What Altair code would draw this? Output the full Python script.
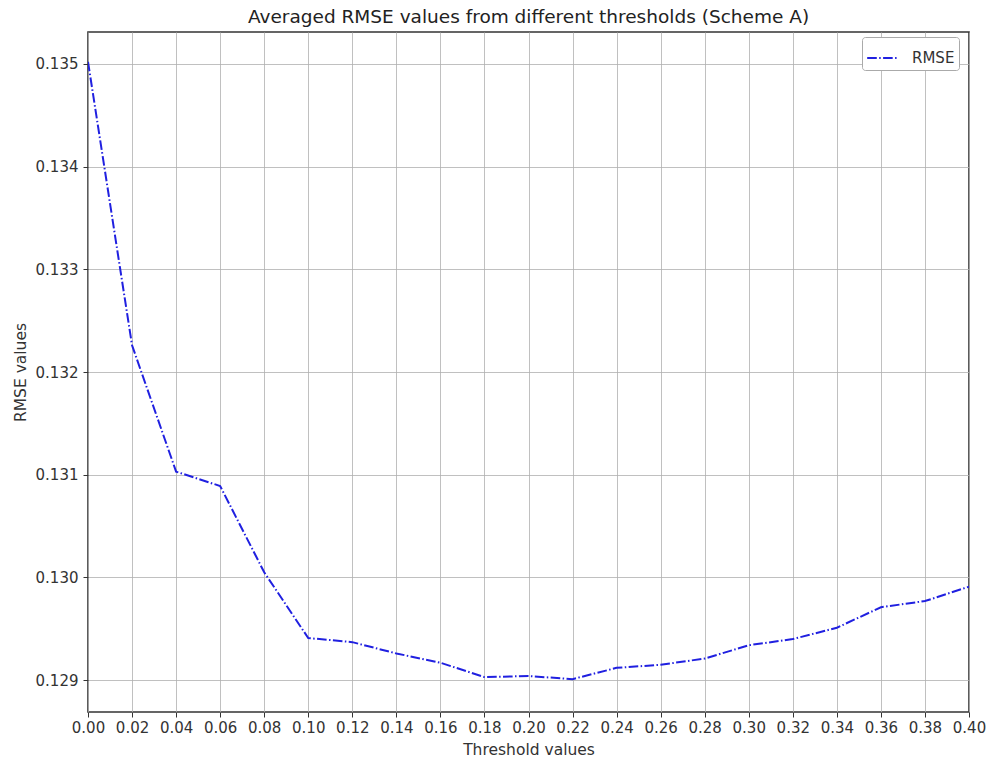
import altair as alt
import pandas as pd

# Threshold values on the x axis and the averaged RMSE at each one
thresholds = [0.00, 0.02, 0.04, 0.06, 0.08, 0.10, 0.12, 0.14, 0.16, 0.18, 0.20,
              0.22, 0.24, 0.26, 0.28, 0.30, 0.32, 0.34, 0.36, 0.38, 0.40]
rmse = [0.13502, 0.13226, 0.13103, 0.13089, 0.13005, 0.12941, 0.12937,
        0.12926, 0.12917, 0.12903, 0.12904, 0.12901, 0.12912, 0.12915,
        0.12921, 0.12934, 0.12940, 0.12951, 0.12971, 0.12977, 0.12991]
y_ticks = [0.129, 0.130, 0.131, 0.132, 0.133, 0.134, 0.135]
series_name = "RMSE"

df = pd.DataFrame({"threshold": thresholds, "rmse": rmse, "series": series_name})

FONT = "DejaVu Sans"
TEXT = "#333333"
DASHDOT = [9.6, 2.4, 1.5, 2.4]
BLUE = "#2020e0"

chart = (
    alt.Chart(df)
    .mark_line(strokeWidth=2, strokeDash=DASHDOT, clip=True)
    .encode(
        x=alt.X(
            "threshold:Q",
            scale=alt.Scale(domain=[0, 0.4], nice=False, zero=False),
            axis=alt.Axis(values=thresholds, format=".2f", title="Threshold values",
                          labelPadding=3, titlePadding=7, labelFlush=False,
                          labelOverlap=False, labelBound=False),
        ),
        y=alt.Y(
            "rmse:Q",
            scale=alt.Scale(domain=[0.12869, 0.13531], nice=False, zero=False),
            axis=alt.Axis(values=y_ticks, format=".3f", title="RMSE values",
                          labelPadding=5, titlePadding=7, labelFlush=False,
                          labelOverlap=False),
        ),
        color=alt.Color(
            "series:N",
            scale=alt.Scale(domain=[series_name], range=[BLUE]),
            legend=alt.Legend(
                title=None, orient="none", legendX=774, legendY=5,
                symbolType="stroke", symbolDash=DASHDOT, symbolStrokeWidth=2,
                symbolSize=1000, labelFontSize=15, labelFont=FONT, labelColor=TEXT,
                fillColor="white", strokeColor="#aaaaaa", padding=4,
                cornerRadius=3, labelOffset=12,
            ),
        ),
    )
    .properties(
        width=881,
        height=680,
        autosize=alt.AutoSizeParams(type="none"),
        padding={"left": 88, "top": 32, "right": 18, "bottom": 48},
        title=alt.TitleParams(
            "Averaged RMSE values from different thresholds (Scheme A)",
            fontSize=18.5, fontWeight="normal", font=FONT, color="#222222",
            anchor="middle", offset=6,
        ),
    )
    .configure_view(stroke="#333333", strokeWidth=1.6)
    .configure_axis(
        domain=False,
        grid=True,
        gridColor="#b0b0b0",
        gridWidth=0.8,
        ticks=True,
        tickColor="#333333",
        tickSize=5,
        tickWidth=1,
        labelFont=FONT,
        labelFontSize=15,
        labelColor=TEXT,
        titleFont=FONT,
        titleFontSize=15.5,
        titleFontWeight="normal",
        titleColor=TEXT,
    )
)

chart.save("out.html", embed_options={"renderer": "svg", "actions": False})
